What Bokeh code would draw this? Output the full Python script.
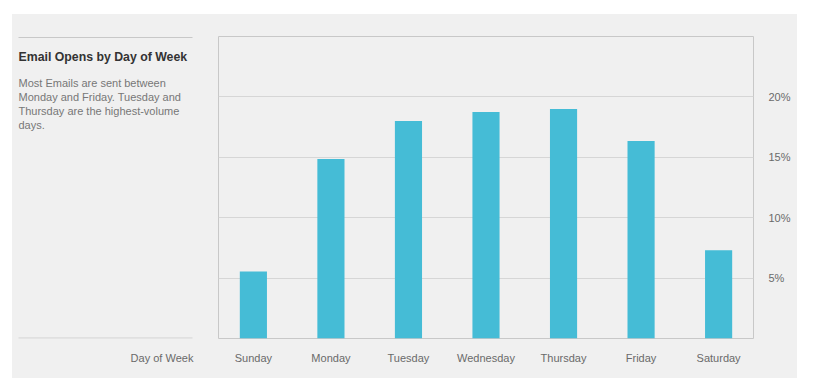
from bokeh.plotting import figure
from bokeh.models import Range1d, FixedTicker, PrintfTickFormatter, ColumnDataSource
from bokeh.layouts import row
from bokeh.core.properties import value
from bokeh.embed import file_html
from bokeh.resources import INLINE

days = ["Sunday", "Monday", "Tuesday", "Wednesday", "Thursday", "Friday", "Saturday"]
opens = [5.55, 14.85, 18.0, 18.75, 19.0, 16.35, 7.3]
y_ticks = [5, 10, 15, 20]
title_text = "Email Opens by Day of Week"
desc_lines = ["Most Emails are sent between", "Monday and Friday. Tuesday and",
              "Thursday are the highest-volume", "days."]
x_title = "Day of Week"

FONT = "Liberation Sans"
BG = "#f0f0f0"
GRID = "#d6d6d6"
LINE = "#c8c8c8"
H = 364
TOP, BOTTOM = 22, 40


def style_axis(ax, standoff):
    ax.axis_line_color = None
    ax.major_tick_line_color = None
    ax.minor_tick_line_color = None
    ax.major_tick_out = 0
    ax.major_tick_in = 0
    ax.major_label_text_font = FONT
    ax.major_label_text_font_size = "11px"
    ax.major_label_text_color = "#6a6a6a"
    ax.major_label_standoff = standoff


# ---------------- left text panel (frame coords = page pixels) ----------------
LW = 200
left = figure(width=LW, height=H, output_backend="svg", toolbar_location=None,
              x_range=Range1d(12, 12 + LW), y_range=Range1d(338, 36),
              y_axis_type=None, min_border_left=0, min_border_right=0,
              min_border_top=TOP, min_border_bottom=BOTTOM)
left.background_fill_color = BG
left.border_fill_color = BG
left.outline_line_color = None
left.grid.grid_line_color = None
lx = left.xaxis[0]
lx.ticker = FixedTicker(ticks=[161.5])
lx.major_label_overrides = {161.5: x_title}
style_axis(lx, 13)

left.text(x=[18], y=[56], text=[title_text], text_font=value(FONT), text_font_size="12.3px",
          text_font_style="bold", text_color="#333333", text_baseline="middle")
left.text(x=[18] * len(desc_lines), y=[82 + 14 * i for i in range(len(desc_lines))],
          text=desc_lines, text_font=value(FONT), text_font_size="11px",
          text_color="#777777", text_baseline="middle")
left.segment(x0=[18, 18], y0=[37, 337.6], x1=[192, 192], y1=[37, 337.6],
             line_color=LINE, line_width=1)

# ---------------- chart ----------------
src = ColumnDataSource(dict(x=list(range(len(days))), top=opens))

p = figure(width=585, height=H, output_backend="svg", toolbar_location=None,
           x_range=Range1d(-0.45, 6.45), y_range=Range1d(0, 25),
           y_axis_location="right",
           min_border_left=6, min_border_right=44, min_border_top=TOP, min_border_bottom=BOTTOM)
p.background_fill_color = BG
p.border_fill_color = BG
p.outline_line_color = LINE
p.outline_line_width = 1

p.vbar(x="x", top="top", width=0.35, source=src, fill_color="#45bcd6", line_color=None)

xa = p.xaxis[0]
xa.ticker = FixedTicker(ticks=list(range(len(days))))
xa.major_label_overrides = {i: d for i, d in enumerate(days)}
style_axis(xa, 13)
ya = p.yaxis[0]
ya.ticker = FixedTicker(ticks=y_ticks)
ya.formatter = PrintfTickFormatter(format="%d%%")
style_axis(ya, 15)

p.xgrid.grid_line_color = None
p.ygrid.grid_line_color = GRID
p.ygrid.grid_line_width = 1

layout = row(left, p, spacing=0)
layout.margin = (14, 0, 0, 12)
layout.styles = {"background-color": BG}

open("out.html", "w").write(file_html(layout, INLINE))
